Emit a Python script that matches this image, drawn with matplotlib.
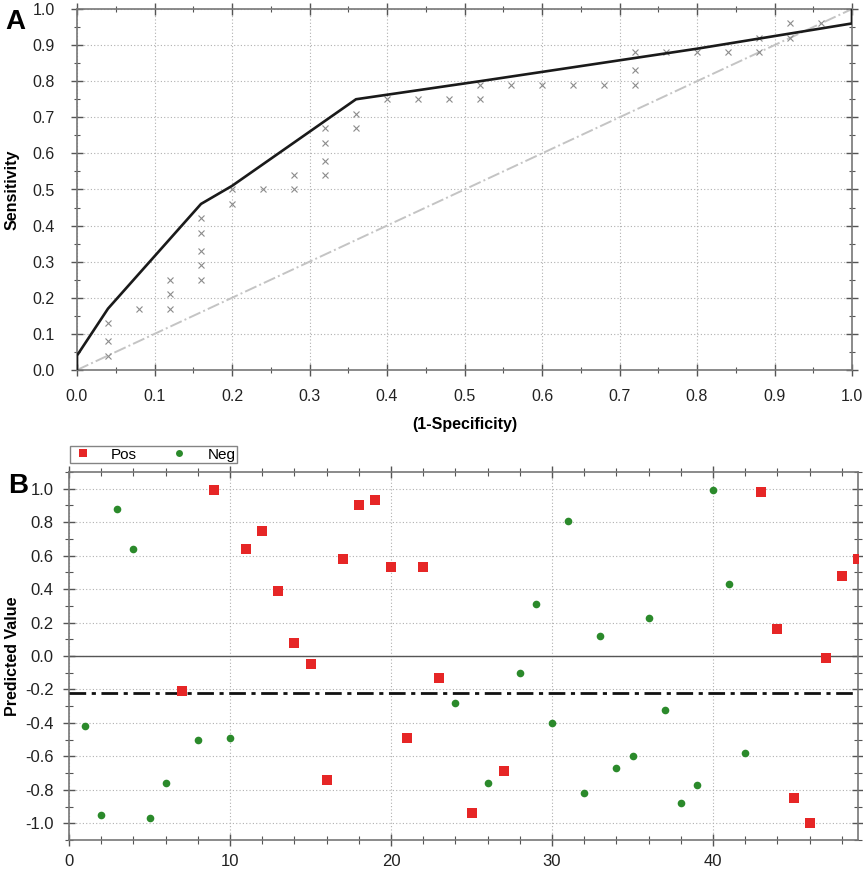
import matplotlib
matplotlib.use("Agg")
import matplotlib.pyplot as plt
from matplotlib.ticker import MultipleLocator
from matplotlib.lines import Line2D

plt.rcParams['font.family'] = ['Liberation Sans', 'DejaVu Sans']

# ---------------- Panel A data (ROC) ----------------
roc_fpr = [0.0, 0.0, 0.04, 0.16, 0.20, 0.36, 0.52, 0.80, 1.0, 1.0]
roc_tpr = [0.0, 0.04, 0.17, 0.46, 0.51, 0.75, 0.80, 0.89, 0.96, 1.0]
chance_x = [0.0, 1.0]
chance_y = [0.0, 1.0]
pts_fpr = [0.04, 0.04, 0.04, 0.08, 0.12, 0.12, 0.12,
           0.16, 0.16, 0.16, 0.16, 0.16, 0.20, 0.20, 0.24,
           0.28, 0.28, 0.32, 0.32, 0.32, 0.32, 0.36, 0.36,
           0.40, 0.44, 0.48, 0.52, 0.52, 0.56, 0.60, 0.64,
           0.68, 0.72, 0.72, 0.72, 0.76, 0.80, 0.84, 0.88,
           0.88, 0.92, 0.92, 0.96]
pts_tpr = [0.13, 0.08, 0.04, 0.17, 0.25, 0.21, 0.17,
           0.42, 0.38, 0.33, 0.29, 0.25, 0.50, 0.46, 0.50,
           0.54, 0.50, 0.67, 0.63, 0.58, 0.54, 0.71, 0.67,
           0.75, 0.75, 0.75, 0.79, 0.75, 0.79, 0.79, 0.79,
           0.79, 0.88, 0.83, 0.79, 0.88, 0.88, 0.88, 0.88,
           0.92, 0.96, 0.92, 0.96]

# ---------------- Panel B data (predicted values) ----------------
pos_idx = [7, 9, 11, 12, 13, 14, 15, 16, 17, 18, 19, 20, 21, 22, 23, 25, 27,
           43, 44, 45, 46, 47, 48, 49]
pos_val = [-0.21, 0.99, 0.64, 0.75, 0.39, 0.08, -0.05, -0.74, 0.58, 0.90, 0.93,
           0.53, -0.49, 0.53, -0.13, -0.94, -0.69,
           0.98, 0.16, -0.85, -1.00, -0.01, 0.48, 0.58]
neg_idx = [1, 2, 3, 4, 5, 6, 8, 10, 24, 26, 28, 29, 30, 31, 32, 33, 34, 35,
           36, 37, 38, 39, 40, 41, 42]
neg_val = [-0.42, -0.95, 0.88, 0.64, -0.97, -0.76, -0.50, -0.49, -0.28, -0.76,
           -0.10, 0.31, -0.40, 0.81, -0.82, 0.12, -0.67, -0.60,
           0.23, -0.32, -0.88, -0.77, 0.99, 0.43, -0.58]
threshold = -0.22
legend_labels = ["Pos", "Neg"]

W, H = 863, 871
fig = plt.figure(figsize=(W / 100, H / 100), dpi=100)

def fx(px):
    return px / W

def fy(py):
    return 1 - py / H

grid_kw = dict(color='#b0b0b0', linestyle=(0, (1, 2)), linewidth=0.8)

# ---------------- Panel A ----------------
axA = fig.add_axes([fx(77), fy(370), fx(852) - fx(77), fy(9) - fy(370)])
axA.plot(chance_x, chance_y, color='#c4c4c4', linestyle='-.', linewidth=1.4, zorder=2)
axA.plot(pts_fpr, pts_tpr, linestyle='none', marker='x', markersize=4.5,
         markeredgewidth=0.8, color='#8c8c8c', zorder=3)
axA.plot(roc_fpr, roc_tpr, color='#1a1a1a', linewidth=1.9, zorder=4)
axA.set_xlim(0, 1.0)
axA.set_ylim(0, 1.0)
axA.xaxis.set_major_locator(MultipleLocator(0.1))
axA.xaxis.set_minor_locator(MultipleLocator(0.05))
axA.yaxis.set_major_locator(MultipleLocator(0.1))
axA.yaxis.set_minor_locator(MultipleLocator(0.05))
axA.xaxis.set_major_formatter(plt.FuncFormatter(lambda v, p: f"{v:.1f}"))
axA.yaxis.set_major_formatter(plt.FuncFormatter(lambda v, p: f"{v:.1f}"))
axA.grid(True, which='major', **grid_kw)
axA.tick_params(which='both', direction='inout', top=True, right=True,
                colors='#555555', labelcolor='#222222', labelsize=11.5)
axA.tick_params(which='major', length=8, width=1)
axA.tick_params(which='minor', length=5, width=0.8)
axA.tick_params(axis='x', which='major', pad=10)
axA.tick_params(axis='y', which='major', pad=12)
for s in axA.spines.values():
    s.set_color('#777777')
    s.set_linewidth(1.2)
axA.set_xlabel("(1-Specificity)", fontsize=11.5, fontweight='bold', labelpad=9)
axA.set_ylabel("Sensitivity", fontsize=11.5, fontweight='bold', labelpad=9)
fig.text(fx(5), fy(22), "A", fontsize=20, fontweight='bold', va='center', ha='left')

# ---------------- Panel B ----------------
axB = fig.add_axes([fx(69), fy(840), fx(858) - fx(69), fy(472) - fy(840)])
axB.axhline(0, color='#555555', linewidth=1.0, zorder=2)
axB.axhline(threshold, color='#111111', linewidth=2.0,
            linestyle=(0, (6, 2, 1.5, 2)), zorder=3)
axB.plot(pos_idx, pos_val, linestyle='none', marker='s', markersize=6.5,
         color='#e62626', markeredgewidth=0, zorder=4, clip_on=True)
axB.plot(neg_idx, neg_val, linestyle='none', marker='o', markersize=5.5,
         color='#2b8a2b', markeredgewidth=0, zorder=4)
axB.set_xlim(0, 49)
axB.set_ylim(-1.1, 1.1)
axB.xaxis.set_major_locator(MultipleLocator(10))
axB.xaxis.set_minor_locator(MultipleLocator(2))
axB.yaxis.set_major_locator(MultipleLocator(0.2))
axB.yaxis.set_minor_locator(MultipleLocator(0.1))
axB.yaxis.set_major_formatter(plt.FuncFormatter(lambda v, p: f"{v:.1f}"))
axB.grid(True, which='major', **grid_kw)
axB.tick_params(which='both', direction='inout', top=True, right=True,
                colors='#555555', labelcolor='#222222', labelsize=12)
axB.tick_params(which='major', length=8, width=1)
axB.tick_params(which='minor', length=6, width=0.8)
axB.tick_params(axis='x', which='major', pad=6)
axB.tick_params(axis='y', which='major', pad=7)
for s in axB.spines.values():
    s.set_color('#777777')
    s.set_linewidth(1.2)
axB.set_ylabel("Predicted Value", fontsize=11.5, fontweight='bold', labelpad=4)
fig.text(fx(8), fy(486), "B", fontsize=20, fontweight='bold', va='center', ha='left')

handles = [Line2D([], [], linestyle='none', marker='s', markersize=5.5,
                  color='#e62626', markeredgewidth=0),
           Line2D([], [], linestyle='none', marker='o', markersize=5,
                  color='#2b8a2b', markeredgewidth=0)]
leg = fig.legend(handles, legend_labels, loc='upper left',
                 bbox_to_anchor=(fx(70), fy(446)), ncol=2, frameon=True,
                 fancybox=False, edgecolor='#666666', fontsize=11,
                 borderpad=0.1, handletextpad=1.1, columnspacing=2.0,
                 handlelength=1.5, borderaxespad=0)
leg.get_frame().set_linewidth(1.0)

fig.savefig("out.png", dpi=100)
